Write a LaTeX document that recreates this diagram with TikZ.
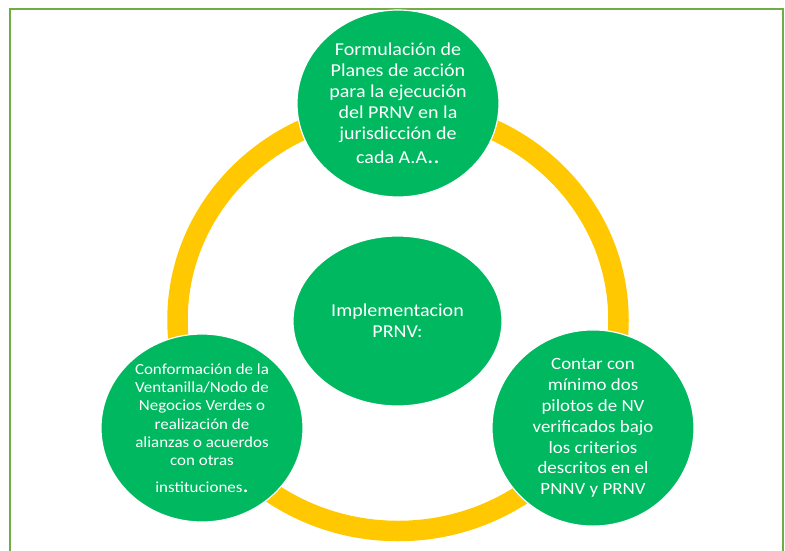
\documentclass[tikz,border=0pt]{standalone}
\usepackage{fontspec}
\setmainfont{Carlito}[FakeStretch=1.1]
\usetikzlibrary{shapes.geometric}
\definecolor{framegreen}{HTML}{70AD47}
\definecolor{stagegreen}{HTML}{00B860}
\definecolor{ringyellow}{HTML}{FFC800}

\begin{document}
\begin{tikzpicture}[x=1pt,y=-1pt,
	stage/.style={ellipse, fill=stagegreen, draw=white, line width=1.2pt, minimum width=202pt, minimum height=188pt, inner sep=0pt, text=white, align=center, font=\fontsize{18.2}{21}\selectfont},
	mid/.style={font=\fontsize{17.2}{20.8}\selectfont},
	small/.style={font=\fontsize{15.4}{18.3}\selectfont}]
	\useasboundingbox (0,0) rectangle (785,550);
	\clip (0,0) rectangle (785,550);
	
	\draw[framegreen, line width=1.6pt] (10,9) rectangle (783,565);
	
	\draw[ringyellow, line width=20.5pt] (398,320) ellipse [x radius=220.5, y radius=211];
	
	\node[stage, minimum width=209pt, minimum height=170pt] (centro) at (397.5,321) {Implementacion\\PRNV:};
	
	\node[stage, minimum height=187pt] (planes) at (398,103.5) {Formulación de\\Planes de acción\\para la ejecución\\del PRNV en la\\jurisdicción de\\[3pt]cada A.A{\fontsize{23}{23}\selectfont..}};
	
	\node[stage, small] (ventanilla) at (202,428) {Conformación de la\\Ventanilla/Nodo de\\Negocios Verdes o\\realización de\\alianzas o acuerdos\\con otras\\[8pt]instituciones{\fontsize{22}{22}\selectfont.}};
	
	\node[stage, mid] (pilotos) at (593,428) {Contar con\\mínimo dos\\pilotos de NV\\verificados bajo\\los criterios\\descritos en el\\PNNV y PRNV};
	
\end{tikzpicture}
\end{document}
